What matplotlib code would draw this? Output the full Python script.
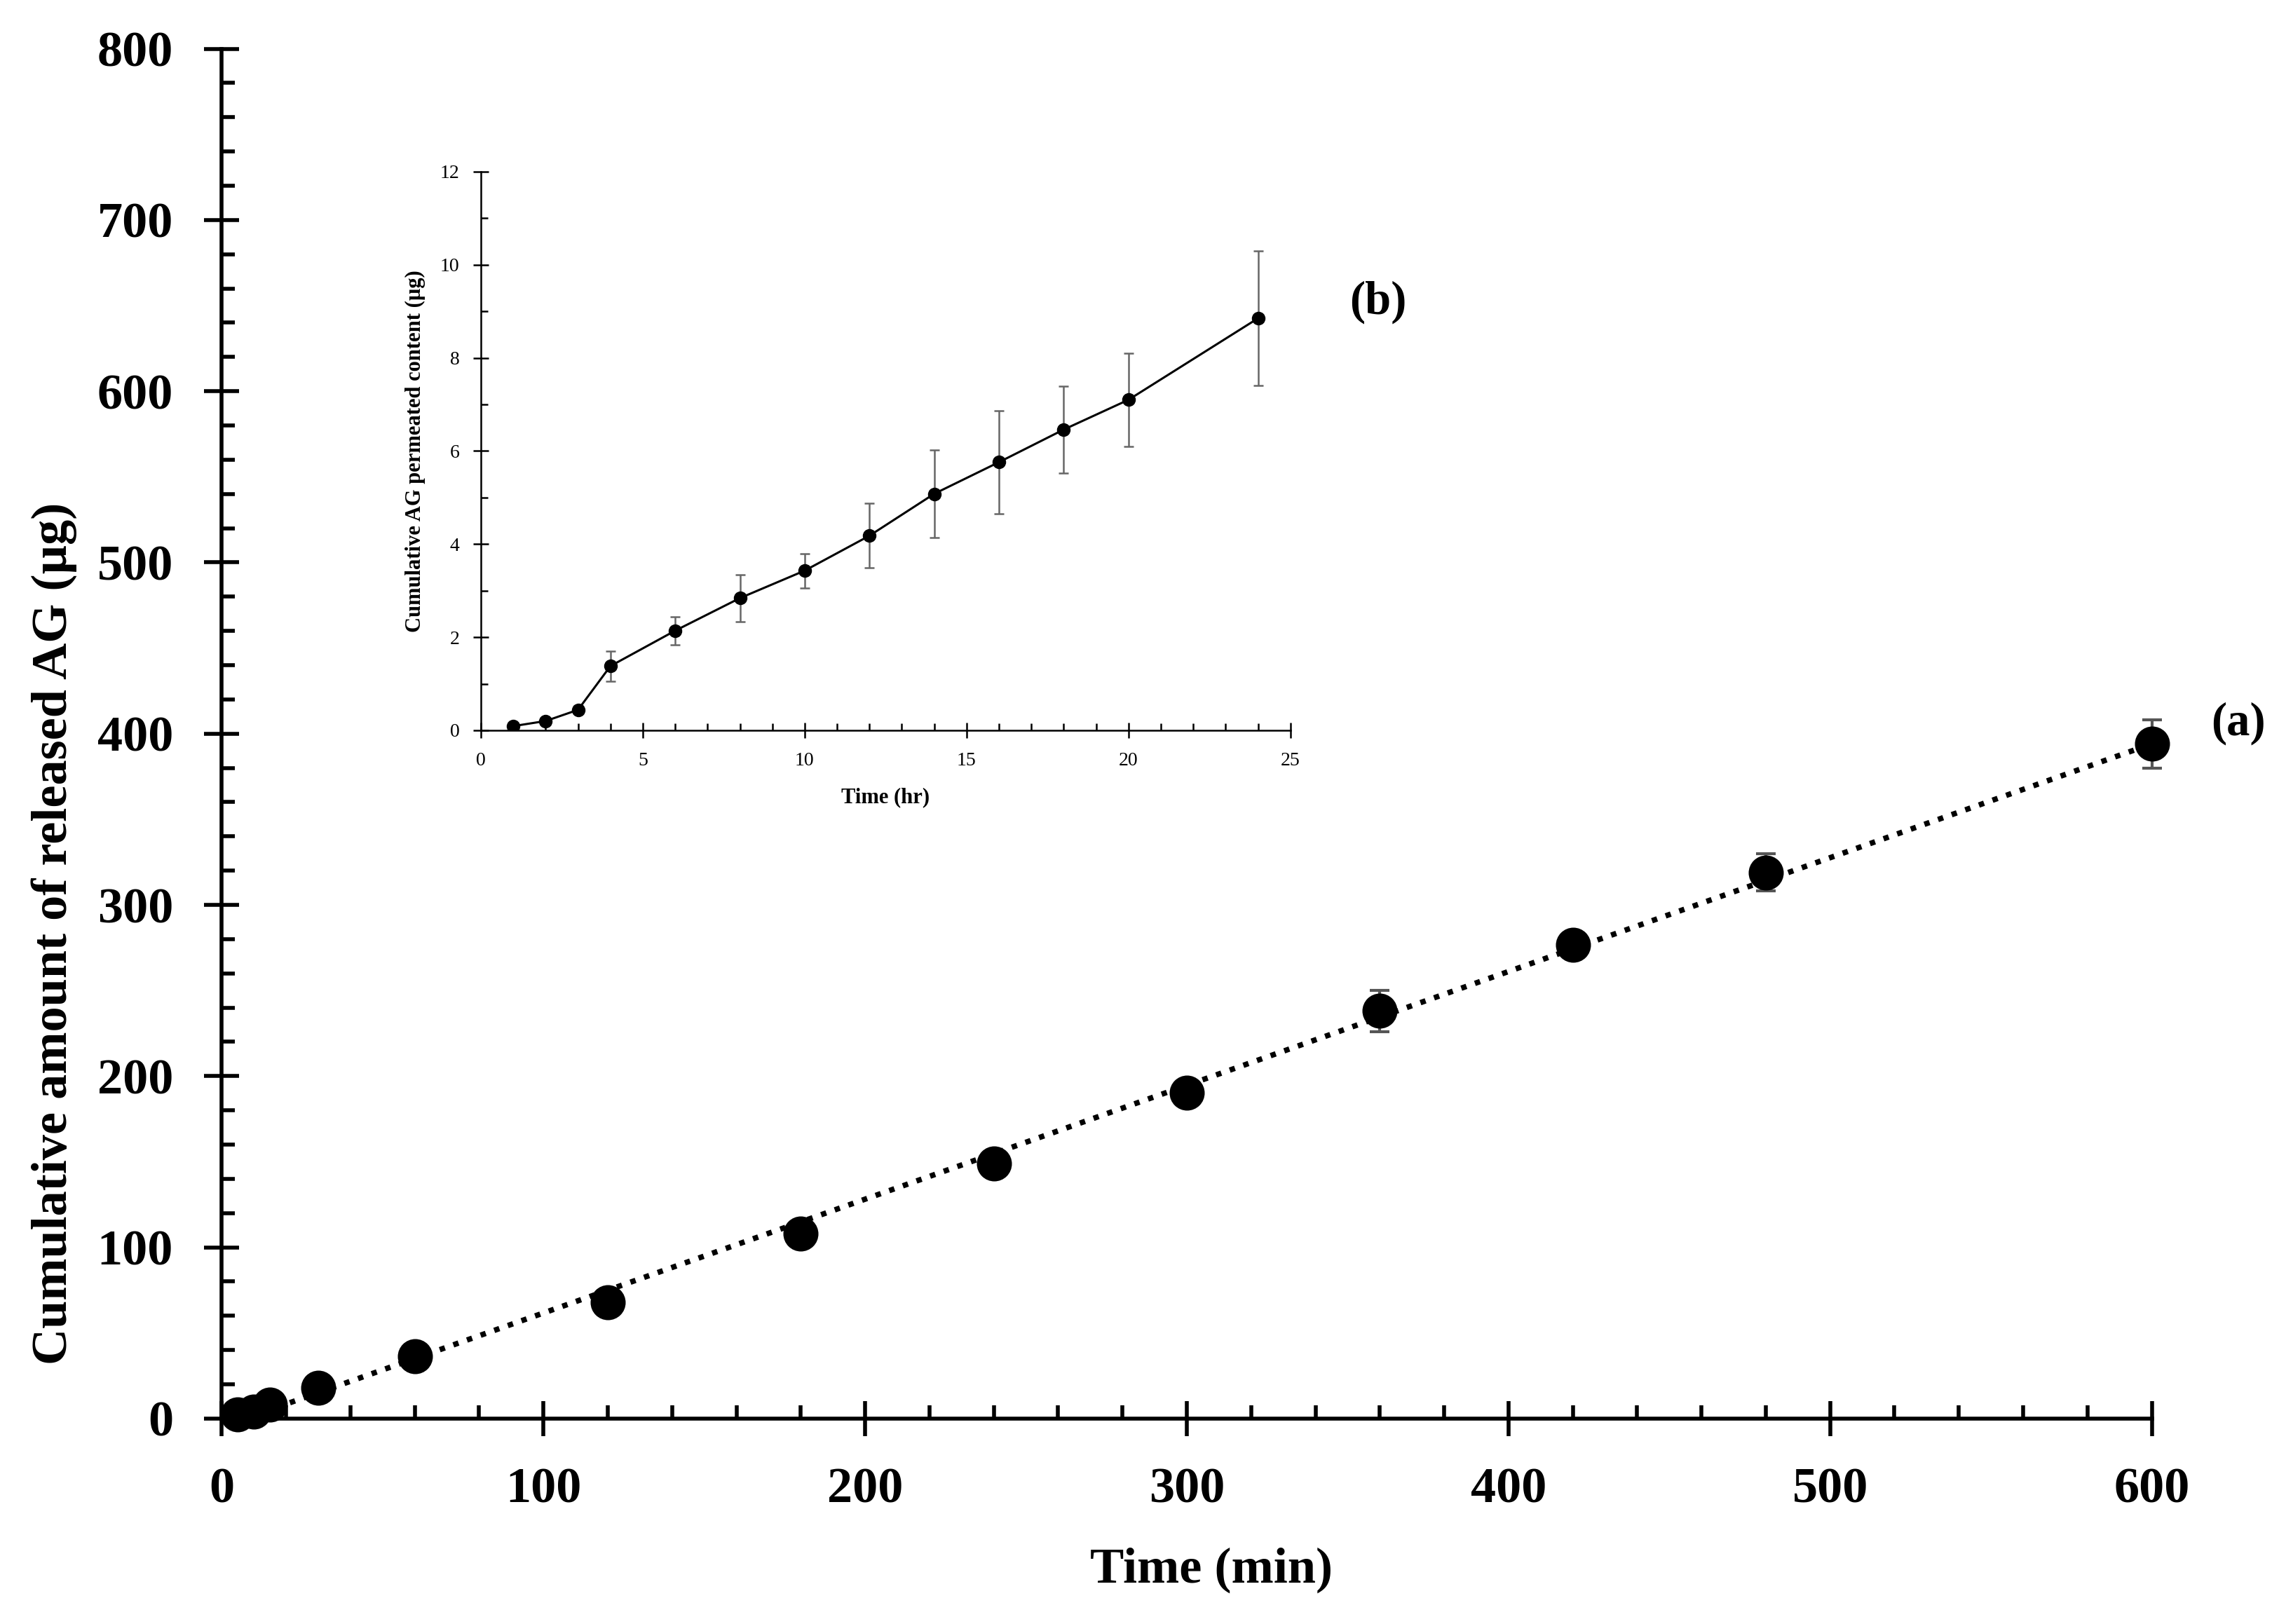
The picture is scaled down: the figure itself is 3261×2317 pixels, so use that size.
import numpy as np
import matplotlib
matplotlib.use('Agg')
from matplotlib import pyplot as plt
from matplotlib.ticker import MultipleLocator

plt.rcParams['font.family'] = ['Liberation Serif', 'DejaVu Serif']

# (a) cumulative release, time in minutes
time_min = [5, 10, 15, 30, 60, 120, 180, 240, 300, 360, 420, 480, 600]
release_ug = [2.5, 4, 8, 18, 36.5, 68, 108, 149, 190.5, 238, 276.5, 319, 394]
release_err = [1, 1.5, 2, 3, 4, 5, 5, 5, 5, 12, 5, 11, 14]

# (b) permeation, time in hours
time_hr = [1, 2, 3, 4, 6, 8, 10, 12, 14, 16, 18, 20, 24]
perm_ug = [0.09, 0.2, 0.44, 1.38, 2.14, 2.84, 3.43, 4.18, 5.08, 5.76, 6.46, 7.1, 8.85]
perm_err = [0.03, 0.05, 0.08, 0.32, 0.3, 0.5, 0.37, 0.69, 0.94, 1.11, 0.93, 1.0, 1.44]

fig = plt.figure(figsize=(16.31, 11.585), dpi=200)

## Main plot (a)
ax = fig.add_axes([0.097, 0.1265, 0.844, 0.8435])
ax.errorbar(time_min, release_ug, yerr=release_err, fmt='none', ecolor='#555555',
            elinewidth=1.5, capsize=5, capthick=1.5, zorder=2, clip_on=False)
ax.plot(time_min, release_ug, 'o', color='black', markersize=17, zorder=3, clip_on=False)

# linear fit through the points
slope, icpt = np.polyfit(time_min, release_ug, 1)
xfit = np.array([0, 600])
ax.plot(xfit, slope * xfit + icpt, ':', color='black', linewidth=2.8, zorder=2.5)

ax.set_xlim(0, 600)
ax.set_ylim(0, 800)
for s in ['top', 'right']:
    ax.spines[s].set_visible(False)
for s in ['left', 'bottom']:
    ax.spines[s].set_linewidth(2.0)

ax.xaxis.set_major_locator(MultipleLocator(100))
ax.xaxis.set_minor_locator(MultipleLocator(20))
ax.yaxis.set_major_locator(MultipleLocator(100))
ax.yaxis.set_minor_locator(MultipleLocator(20))
ax.tick_params(which='major', direction='inout', length=18, width=2.0, pad=16,
               labelsize=26)
ax.tick_params(which='minor', direction='in', length=7, width=2.0)
for lab in ax.get_xticklabels() + ax.get_yticklabels():
    lab.set_fontweight('bold')

ax.set_xlabel('Time (min)', fontsize=26, fontweight='bold')
ax.set_ylabel('Cumulative amount of released AG (µg)', fontsize=26, fontweight='bold')
ax.xaxis.set_label_coords(0.5126, -0.094)
ax.yaxis.set_label_coords(-0.075, 0.354)

ax.text(627, 406, '(a)', fontsize=24, fontweight='bold', ha='center', va='center')

## Inset (b)
ins = fig.add_axes([0.2103, 0.5503, 0.354, 0.344])
ins.errorbar(time_hr, perm_ug, yerr=perm_err, fmt='none', ecolor='#666666',
             elinewidth=0.9, capsize=2.5, capthick=0.9)
ins.plot(time_hr, perm_ug, '-o', color='black', linewidth=1.1, markersize=6)
ins.set_xlim(0, 25)
ins.set_ylim(0, 12)
for s in ['top', 'right']:
    ins.spines[s].set_visible(False)
for s in ['left', 'bottom']:
    ins.spines[s].set_linewidth(0.9)
ins.xaxis.set_major_locator(MultipleLocator(5))
ins.xaxis.set_minor_locator(MultipleLocator(1))
ins.yaxis.set_major_locator(MultipleLocator(2))
ins.yaxis.set_minor_locator(MultipleLocator(1))
ins.tick_params(which='major', direction='inout', length=8, width=0.9, pad=7,
                labelsize=10)
ins.tick_params(which='minor', direction='in', length=3.5, width=0.9)
ins.set_xlabel('Time (hr)', fontsize=11, fontweight='bold')
ins.set_ylabel('Cumulative AG permeated content (µg)', fontsize=11, fontweight='bold')
ins.xaxis.set_label_coords(0.5, -0.102)
ins.yaxis.set_label_coords(-0.068, 0.5)

ins.text(27.7, 9.2, '(b)', fontsize=24, fontweight='bold', ha='center', va='center')

fig.savefig('out.png', dpi=200)
